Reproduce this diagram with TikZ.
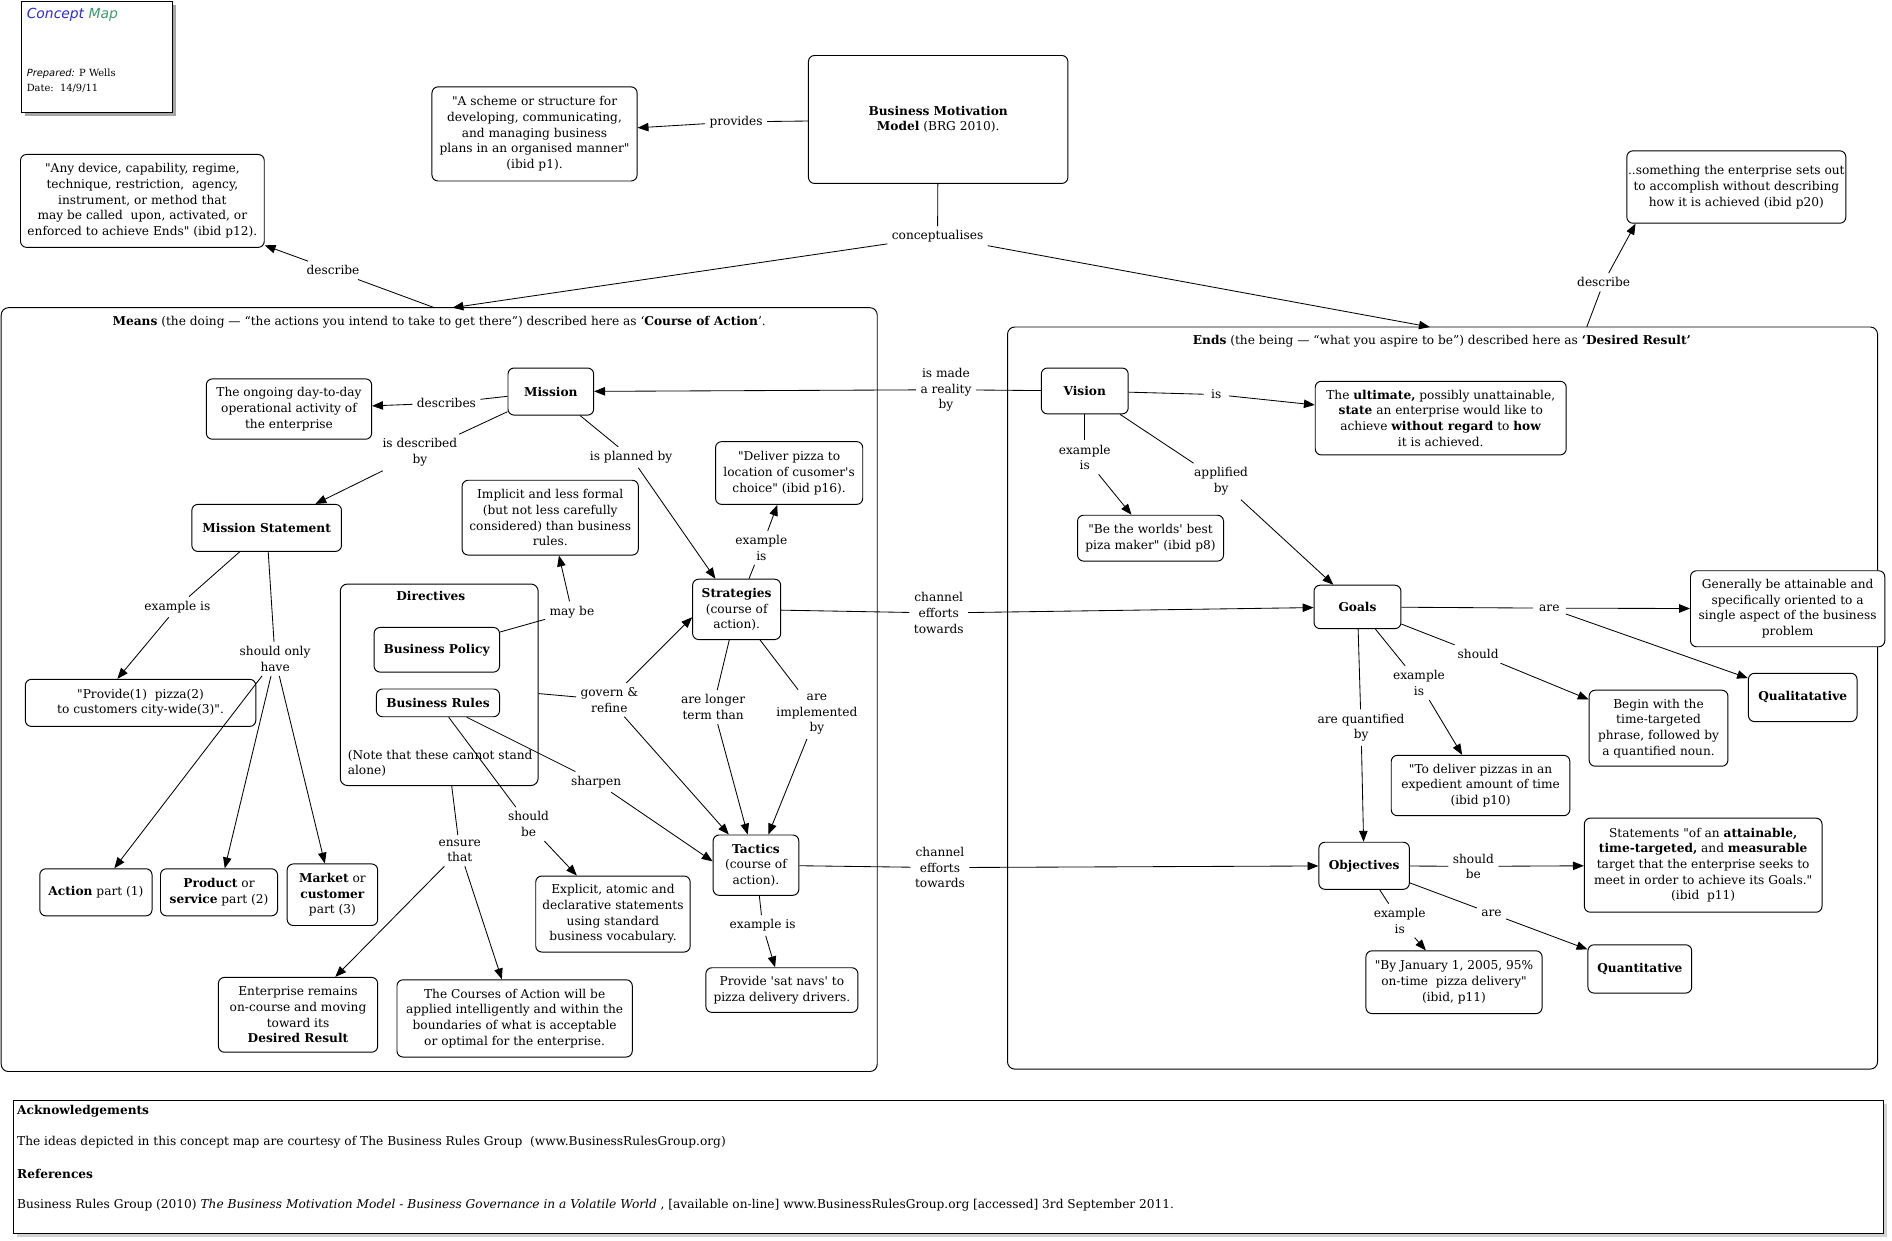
\documentclass[tikz,border=0pt]{standalone}
\usepackage{fontspec}
\setmainfont{DejaVu Serif}[Ligatures=TeXOff]
\setsansfont{DejaVu Sans}[Ligatures=TeXOff]
\usetikzlibrary{arrows.meta}
\definecolor{cmblue}{HTML}{2B2BD0}
\definecolor{cmgreen}{HTML}{3C9A6E}
\newcommand{\fs}{\fontsize{10.1}{13}\selectfont}
\begin{document}
\begin{tikzpicture}[x=1pt,y=-1pt,
  box/.style={draw, fill=white, rounded corners=5pt, align=center, inner sep=1pt, font=\fs, line width=0.8pt},
  frame/.style={draw, rounded corners=6pt, line width=0.8pt, inner sep=0pt},
  lbl/.style={align=center, inner sep=3.5pt, font=\fs},
  con/.style={line width=0.7pt},
  arr/.style={con, -{Triangle[length=9pt,width=7pt]}}]
\useasboundingbox (0,0) rectangle (1568,1028);
\fill[white] (0,0) rectangle (1568,1028);

% header
\fill[gray!70] (21,4) rectangle (146,96);
\node[draw, fill=white, line width=0.8pt, minimum width=125pt, minimum height=92pt, inner sep=0pt] (hdr) at (80.5,47) {};
\node[anchor=west, inner sep=0pt, font=\sffamily\itshape\fontsize{11.5}{13}\selectfont] (cmtitle) at (22,12) {\textcolor{cmblue}{Concept}\ \textcolor{cmgreen}{Map}};
\node[anchor=west, inner sep=0pt, font=\fontsize{8.2}{10}\selectfont] (prep) at (22,61) {{\sffamily\itshape Prepared:} P Wells};
\node[anchor=west, inner sep=0pt, font=\fontsize{8.2}{10}\selectfont] (date) at (22,73) {Date:\ \ 14/9/11};

% frames
\node[frame, minimum width=726pt, minimum height=633pt] (means) at (364,571.5) {};
\node[lbl] (meanstitle) at (364,267) {\textbf{Means} (the doing — “the actions you intend to take to get there”) described here as ‘\textbf{Course of Action}’.};
\node[frame, minimum width=721pt, minimum height=615pt] (ends) at (1195.5,578.5) {};
\node[lbl] (endstitle) at (1195,283) {\textbf{Ends} (the being — “what you aspire to be”) described here as \textbf{‘Desired Result’}};
\node[frame, minimum width=164pt, minimum height=167pt] (directives) at (364,567.5) {};
\node[lbl] (dirtitle) at (357,494) {\textbf{Directives}};
\node[anchor=west, align=left, inner sep=0pt, font=\fs] (note) at (288,632.5) {(Note that these cannot stand\\alone)};

\coordinate (meansA) at (375,255);
\coordinate (meansB) at (360,255);
\coordinate (endsA) at (1185,271);
\coordinate (endsB) at (1315,271);

% top boxes
\node[box, minimum width=170pt, minimum height=78pt] (scheme) at (443,111) {"A scheme or structure for\\developing, communicating,\\and managing business\\plans in an organised manner"\\(ibid p1).};
\node[box, minimum width=215pt, minimum height=106pt] (bmm) at (777.5,99) {\textbf{Business Motivation}\\\textbf{Model} (BRG 2010).};
\node[box, minimum width=202pt, minimum height=77pt] (anydev) at (118,166.5) {"Any device, capability, regime,\\technique, restriction,\ \ agency,\\instrument, or method that\\may be called\ \ upon, activated, or\\enforced to achieve Ends" (ibid p12).};
\node[box, minimum width=178pt, minimum height=60pt] (something) at (1439,155) {..something the enterprise sets out\\to accomplish without describing\\how it is achieved (ibid p20)};

% means boxes
\node[box, minimum width=71pt, minimum height=39pt] (mission) at (456.5,324.5) {\textbf{Mission}};
\node[box, minimum width=137pt, minimum height=50pt] (ongoing) at (239.5,339) {The ongoing day-to-day\\operational activity of\\the enterprise};
\node[box, minimum width=124pt, minimum height=39pt] (mstatement) at (221,437.5) {\textbf{Mission Statement}};
\node[box, minimum width=146pt, minimum height=62pt] (implicit) at (456,429) {Implicit and less formal\\(but not less carefully\\considered) than business\\rules.};
\node[box, minimum width=122pt, minimum height=52pt] (deliver) at (654,392) {"Deliver pizza to\\location of cusomer's\\choice" (ibid p16).};
\node[box, minimum width=73pt, minimum height=50pt] (strategies) at (610.5,505) {\textbf{Strategies}\\(course of\\action).};
\node[box, minimum width=104pt, minimum height=37pt] (policy) at (362,538.5) {\textbf{Business Policy}};
\node[box, minimum width=102pt, minimum height=23pt] (rules) at (363,582.5) {\textbf{Business Rules}};
\node[box, minimum width=128pt, minimum height=63pt] (explicit) at (508,757.5) {Explicit, atomic and\\declarative statements\\using standard\\business vocabulary.};
\node[box, minimum width=71pt, minimum height=50pt] (tactics) at (626.5,717) {\textbf{Tactics}\\(course of\\action).};
\node[box, minimum width=126pt, minimum height=37pt] (satnav) at (648,820.5) {Provide 'sat navs' to\\pizza delivery drivers.};
\node[box, minimum width=132pt, minimum height=62pt] (enterprise) at (247,841) {Enterprise remains\\on-course and moving\\toward its\\\textbf{Desired Result}};
\node[box, minimum width=195pt, minimum height=64pt] (courses) at (426.5,844) {The Courses of Action will be\\applied intelligently and within the\\boundaries of what is acceptable\\or optimal for the enterprise.};
\node[box, minimum width=191pt, minimum height=39pt] (provide) at (116.5,582.5) {"Provide(1)\ \ pizza(2)\\to customers city-wide(3)".};
\node[box, minimum width=93pt, minimum height=39pt] (action) at (79.5,739.5) {\textbf{Action} part (1)};
\node[box, minimum width=97pt, minimum height=39pt] (product) at (181.5,739.5) {\textbf{Product} or\\\textbf{service} part (2)};
\node[box, minimum width=75pt, minimum height=51pt] (market) at (275.5,741.5) {\textbf{Market} or\\\textbf{customer}\\part (3)};

% ends boxes
\node[box, minimum width=72pt, minimum height=38pt] (vision) at (899,324) {\textbf{Vision}};
\node[box, minimum width=208pt, minimum height=61pt] (ultimate) at (1194,346.5) {The \textbf{ultimate,} possibly unattainable,\\\textbf{state} an enterprise would like to\\achieve \textbf{without regard} to \textbf{how}\\it is achieved.};
\node[box, minimum width=121pt, minimum height=38pt] (worlds) at (953.5,446) {"Be the worlds' best\\piza maker" (ibid p8)};
\node[box, minimum width=72pt, minimum height=36pt] (goals) at (1125,503) {\textbf{Goals}};
\node[box, minimum width=161pt, minimum height=63pt] (generally) at (1481.5,504.5) {Generally be attainable and\\specifically oriented to a\\single aspect of the business\\problem};
\node[box, minimum width=90pt, minimum height=40pt] (qualit) at (1494,578) {\textbf{Qualitatative}};
\node[box, minimum width=115pt, minimum height=63pt] (begin) at (1374.5,603.5) {Begin with the\\time-targeted\\phrase, followed by\\a quantified noun.};
\node[box, minimum width=148pt, minimum height=50pt] (todeliver) at (1227,651) {"To deliver pizzas in an\\expedient amount of time\\(ibid p10)};
\node[box, minimum width=75pt, minimum height=39pt] (objectives) at (1130.5,717.5) {\textbf{Objectives}};
\node[box, minimum width=197pt, minimum height=78pt] (statements) at (1411.5,717) {Statements "of an \textbf{attainable,}\\\textbf{time-targeted,} and \textbf{measurable}\\target that the enterprise seeks to\\meet in order to achieve its Goals."\\(ibid\ \ p11)};
\node[box, minimum width=146pt, minimum height=52pt] (january) at (1205,814) {"By January 1, 2005, 95\%\\on-time\ \ pizza delivery"\\(ibid, p11)};
\node[box, minimum width=86pt, minimum height=40pt] (quant) at (1359,803) {\textbf{Quantitative}};

% labels
\node[lbl] (provides) at (610,101) {provides};
\node[lbl] (concept) at (777,196) {conceptualises};
\node[lbl] (describeL) at (276,224) {describe};
\node[lbl] (describeR) at (1329,234) {describe};
\node[lbl] (describes) at (370,334) {describes};
\node[lbl] (isdescby) at (348,375) {is described\\by};
\node[lbl] (isplanned) at (523,379) {is planned by};
\node[lbl] (exampleS) at (631,454) {example\\is};
\node[lbl] (maybe) at (474,507) {may be};
\node[lbl] (govern) at (505,580) {govern \&\\refine};
\node[lbl] (sharpen) at (494,648) {sharpen};
\node[lbl] (shouldbe) at (438,683) {should\\be};
\node[lbl] (ensure) at (381,705) {ensure\\that};
\node[lbl] (longer) at (591,586) {are longer\\term than};
\node[lbl] (implemented) at (677,592) {are\\implemented\\by};
\node[lbl] (exampleT) at (632,767) {example is};
\node[lbl] (exampleMS) at (147,503) {example is};
\node[lbl] (shouldonly) at (228,546) {should only\\have};
\node[lbl] (reality) at (784,323) {is made\\a reality\\by};
\node[lbl] (channel1) at (778,508) {channel\\efforts\\towards};
\node[lbl] (channel2) at (779,719) {channel\\efforts\\towards};
\node[lbl, inner sep=6pt] (isl) at (1008,327) {is};
\node[lbl] (exampleV) at (899,379) {example\\is};
\node[lbl] (applified) at (1012,399) {applified\\by};
\node[lbl, inner sep=5pt] (are1) at (1284,504) {are};
\node[lbl] (should) at (1225,542) {should};
\node[lbl] (exampleG) at (1176,566) {example\\is};
\node[lbl] (quantified) at (1128,603) {are quantified\\by};
\node[lbl] (shouldbe2) at (1221,718) {should\\be};
\node[lbl] (exampleO) at (1160,763) {example\\is};
\node[lbl] (are2) at (1236,757) {are};

% connectors
\draw[con] (bmm) -- (provides); \draw[arr] (provides) -- (scheme);
\draw[con] (bmm) -- (concept);
\draw[arr] (concept) -- (meansA);
\draw[arr] (concept) -- (endsA);
\draw[con] (meansB) -- (describeL); \draw[arr] (describeL) -- (anydev);
\draw[con] (endsB) -- (describeR); \draw[arr] (describeR) -- (something.200);
\draw[con] (mission) -- (describes); \draw[arr] (describes) -- (ongoing);
\draw[con] (mission) -- (isdescby); \draw[arr] (isdescby) -- (mstatement);
\draw[con] (mission) -- (isplanned); \draw[arr] (isplanned) -- (strategies);
\draw[con] (strategies) -- (exampleS); \draw[arr] (exampleS) -- (deliver);
\draw[con] (policy) -- (maybe); \draw[arr] (maybe) -- (implicit);
\draw[con] (directives) -- (govern);
\draw[arr] (govern) -- (strategies.190);
\draw[arr] (govern) -- (tactics);
\draw[con] (rules) -- (sharpen); \draw[arr] (sharpen) -- (tactics.175);
\draw[con] (rules) -- (shouldbe); \draw[arr] (shouldbe) -- (explicit);
\draw[con] (directives) -- (ensure);
\draw[arr] (ensure) -- (enterprise);
\draw[arr] (ensure) -- (courses);
\draw[con] (strategies) -- (longer); \draw[arr] (longer) -- (tactics);
\draw[con] (strategies) -- (implemented); \draw[arr] (implemented) -- (tactics);
\draw[con] (tactics) -- (exampleT); \draw[arr] (exampleT) -- (satnav);
\draw[con] (mstatement) -- (exampleMS); \draw[arr] (exampleMS) -- (provide.134);
\draw[con] (mstatement) -- (shouldonly);
\draw[arr] (shouldonly) -- (action);
\draw[arr] (shouldonly) -- (product);
\draw[arr] (shouldonly) -- (market);
\draw[con] (vision) -- (reality); \draw[arr] (reality) -- (mission);
\draw[con] (strategies) -- (channel1); \draw[arr] (channel1) -- (goals);
\draw[con] (tactics) -- (channel2); \draw[arr] (channel2) -- (objectives);
\draw[con] (vision) -- (isl); \draw[arr] (isl) -- (ultimate);
\draw[con] (vision) -- (exampleV); \draw[arr] (exampleV) -- (worlds);
\draw[con] (vision) -- (applified); \draw[arr] (applified) -- (goals);
\draw[con] (goals) -- (are1);
\draw[arr] (are1) -- (generally);
\draw[arr] (are1) -- (qualit);
\draw[con] (goals) -- (should); \draw[arr] (should) -- (begin);
\draw[con] (goals) -- (exampleG); \draw[arr] (exampleG) -- (todeliver);
\draw[con] (goals) -- (quantified); \draw[arr] (quantified) -- (objectives);
\draw[con] (objectives) -- (shouldbe2); \draw[arr] (shouldbe2) -- (statements);
\draw[con] (objectives) -- (exampleO); \draw[arr] (exampleO) -- (january);
\draw[con] (objectives) -- (are2); \draw[arr] (are2) -- (quant);

% bottom box
\fill[gray!35] (14,915) rectangle (1564,1025);
\node[draw, fill=white, line width=0.8pt, minimum width=1550pt, minimum height=110pt, inner sep=0pt] (refs) at (786,967) {};
\node[anchor=west, inner sep=0pt, font=\fs] (ack) at (14,921) {\textbf{Acknowledgements}};
\node[anchor=west, inner sep=0pt, font=\fs] (acktext) at (14,947) {The ideas depicted in this concept map are courtesy of The Business Rules Group\ \ (www.BusinessRulesGroup.org)};
\node[anchor=west, inner sep=0pt, font=\fs] (reftitle) at (14,973) {\textbf{References}};
\node[anchor=west, inner sep=0pt, font=\fs] (reftext) at (14,999) {Business Rules Group (2010) \textit{The Business Motivation Model - Business Governance in a Volatile World} , [available on-line] www.BusinessRulesGroup.org [accessed] 3rd September 2011.};
\end{tikzpicture}
\end{document}
